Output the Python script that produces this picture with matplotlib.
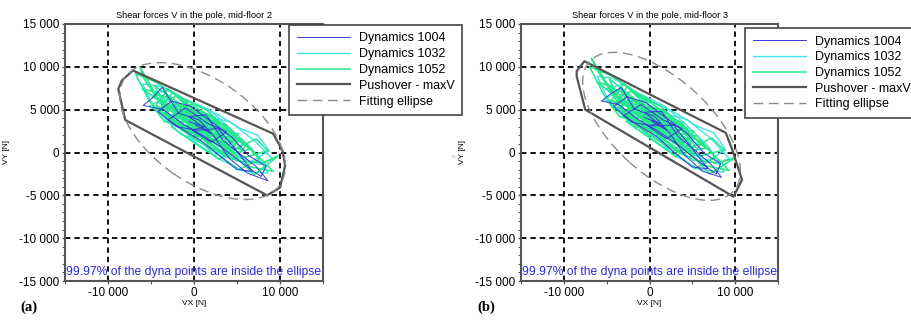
import matplotlib
matplotlib.use('Agg')
import matplotlib.pyplot as plt
from matplotlib.patches import Ellipse, Polygon
from matplotlib.ticker import FuncFormatter, MultipleLocator

plt.rcParams['font.family'] = ['Liberation Sans', 'DejaVu Sans']

# ---- data, plot (a): mid-floor 2 ----
blue_a_x = [200, 2000, -600, 1400, 3400, 5400, 7200, 8600, 6200, 4000, 2400, 600, -1800, -3700, -4800, -5900,
            -3600, -1400, 1000, 3200, 5800, 7800, 8400, 6400, 4400, 2000, -400, -2600, -4200, -2000, 400, 2800,
            4800, 6800, 5000, 3000, 800, -1200, -3000, -1000, 1600, 3800, 2000, -200, 1200, -600]
blue_a_y = [3200, 2200, 4200, 4400, 1400, -200, -1600, -3300, -2400, -600, 1800, 3800, 4600, 7600, 6400, 5500,
            5000, 3400, 2000, 600, -1400, -2800, -1600, -400, 1800, 3600, 5400, 6000, 4800, 3000, 2600, 2800,
            400, -2200, -2000, -400, 1400, 2600, 3800, 5200, 3400, 2400, 1200, 2600, 3000, 3600]

cyan_a_x = [800, -1200, 2200, 4600, 2400, -400, -2800, -5000, -3000, 0, 2800, 5400, 7400, 8800, 6400, 3600,
            1000, -1600, -4400, -6000, -4200, -1400, 1800, 4000, 6800, 8600, 5800, 2600, -200, -2800, -5200, -3400,
            -600, 2000, 4800, 7600, 9200, 7000, 4200, 1400, -1800, -3800, -1600, 1200, 3800, 5600, 3000, 200,
            -2200, -400, 1800, 600, -1000]
cyan_a_y = [2800, 4000, 3600, 1200, -400, 1600, 5200, 6600, 7400, 5600, 4400, 2800, 2000, 200, -1200, 400,
            2000, 3400, 4800, 8000, 7800, 6400, 5000, 3000, 400, -2400, -2200, -600, 2400, 4000, 5400, 6400,
            4800, 2400, -400, -1400, -800, 1400, 3600, 4200, 5600, 4400, 2200, 1000, -600, 1000, 2800, 3800,
            3400, 2600, 3200, 4600, 3000]

green_a_x = [0, 1500, -800, 2600, -1500, -3200, 500, 3500, 1200, -2200, -4600, -1800, 1000, 4200, 6500, 3000,
             -500, -3000, -5800, -6300, -4000, -1000, 2000, 5000, 8000, 9800, 7000, 4000, 1800, -1200, -3800, -2500,
             200, 2500, 5500, 7600, 5200, 2200, -200, -2800, -5200, -6800, -4400, -1600, 1400, 3800, 6800, 9200,
             6200, 3200, 600, -2000, -4800, -3400, -800, 1800, 4600, 2400, -400, -2400, -300, 2800, 5800, 8600,
             7200, 4400, 1600, -1400, -4200, -6000, -3600, -600, 2200, 4800, 3000, 200, -2600, -1000, 1200, 3600,
             1000, -1800, 400, 2600, 200, -1400, 1600, -200,
             1800, 3400, 1000, -1600, -2600, -400, 2200, 4000, 2600, 400, -2200, -3400, -1200, 800, 3000, 5000,
             3400, 1400, -800, -2800, -4600, -3000, -600, 1600, 3800, 5400, 2800, 600, -1600, -3800, -2000, 0,
             2000, 4200, 6200, 4600, 2000, -200, -2400, -4400, -3000, -800, 1200, 3200, 5200, 3600, 1000, -1000,
             -3000, -1400, 600, 2400, 4400, 2200, 200, -1800, 0, 1800, -600, 1200, -1000, 2800, 500]
green_a_y = [3000, 1200, 4800, 2600, 2600, 6800, 1400, 2400, 4600, 3200, 7800, 5800, 3800, -200, 400, 3200,
             2200, 4400, 8600, 10000, 6000, 4200, 1000, -1000, -1200, -400, -2600, 400, 3400, 5400, 5200, 7000,
             4400, 2000, 1600, -800, -2000, 200, 1800, 3600, 6000, 9200, 8200, 6400, 5000, 2800, 200, -2200,
             -1600, 600, 2600, 5000, 5400, 3600, 3000, 4400, 2400, 4000, 5600, 4400, 2400, 1200, -600, 200,
             1600, 200, 2400, 3800, 7000, 7400, 5800, 3400, 3000, 800, -800, 1000, 3000, 5000, 2800, 1600,
             4200, 4600, 3600, 3600, 2200, 4200, 3000, 3200,
             2000, 2600, 4400, 5200, 3800, 2000, 1600, 800, 3400, 4000, 5800, 4600, 3000, 2400, 1800, 1200,
             -200, 1400, 3600, 6400, 6800, 5000, 4400, 3800, 3200, 400, 800, 3000, 4000, 5800, 6600, 5000,
             4200, 1800, 1000, -800, 600, 2800, 3400, 5600, 7400, 5800, 3600, 2200, 2200, 400, 1800, 2600,
             4200, 4800, 4600, 2600, 1200, 1200, 3400, 4400, 3600, 3000, 3800, 2600, 4600, 2800, 3100]

push_a_x = [-7100, -8400, -8800, -8000, 8500, 10000, 10600, 10300, 9200]
push_a_y = [9570, 8400, 7400, 3800, -5000, -4100, -1500, 200, 2200]
ell_a = (1000, 2500, 10970, 6010, -35)   # centre x, centre y, semi-axis a, semi-axis b, angle

# ---- data, plot (b): mid-floor 3 ----
blue_b_x = [200, 2000, -600, 1400, 3400, 5400, 7200, 8400, 6200, 4000, 2400, 600, -1800, -3300, -4600, -5600,
            -3600, -1400, 1000, 3200, 5800, 7800, 8300, 6400, 4400, 2000, -400, -2600, -4200, -2000, 400, 2800,
            4800, 6800, 5000, 3000, 800, -1200, -3000, -1000, 1600, 3800, 2000, -200, 1200, -600]
blue_b_y = [3700, 2600, 4700, 4800, 1800, 200, -1400, -2900, -2200, -200, 2200, 4200, 5100, 7600, 6800, 6000,
            5600, 3900, 2500, 1000, -1100, -2500, -1300, -100, 2200, 4000, 5800, 6500, 5400, 3500, 3100, 3200,
            700, -1900, -1700, -100, 1900, 3100, 4300, 5600, 3800, 2800, 1600, 3100, 3400, 4100]

cyan_b_x = [800, -1200, 2200, 4700, 2500, -400, -2900, -5100, -3100, 0, 2900, 5500, 7500, 8900, 6500, 3700,
            1000, -1600, -4500, -6100, -4300, -1400, 1800, 4100, 6900, 8700, 5900, 2700, -200, -2900, -5300, -3500,
            -600, 2000, 4900, 7700, 9300, 7100, 4300, 1400, -1800, -3900, -1600, 1200, 3900, 5700, 3100, 200,
            -2200, -400, 1800, 600, -1000]
cyan_b_y = [3300, 4500, 4000, 1600, 0, 2100, 5800, 7400, 8000, 6000, 4700, 3100, 2300, 300, -1100, 800,
            2500, 3900, 5500, 8900, 8700, 7000, 5400, 3400, 700, -2300, -2000, -200, 2900, 4600, 6200, 7200,
            5300, 2900, -100, -1300, -700, 1700, 3900, 4600, 6200, 5100, 2800, 1500, -300, 1300, 3200, 4300,
            4000, 3100, 3600, 5000, 3600]

green_b_x = [0, 1600, -900, 2500, -1600, -3300, 400, 3600, 1100, -2300, -4700, -1900, 900, 4300, 6600, 3100,
             -600, -3100, -5900, -6800, -4100, -1100, 1900, 5100, 8100, 10000, 7000, 4100, 1700, -1300, -3900, -2600,
             100, 2400, 5600, 7700, 5300, 2300, -300, -2900, -5300, -7000, -4500, -1700, 1300, 3700, 6900, 9300,
             6300, 3300, 500, -2100, -4900, -3500, -900, 1700, 4500, 2300, -500, -2500, -400, 2700, 5900, 8700,
             7300, 4500, 1500, -1500, -4300, -6100, -3700, -700, 2100, 4900, 3100, 300, -2700, -1100, 1100, 3500,
             900, -1900, 300, 2500, 100, -1500, 1500, -300,
             1800, 3400, 1000, -1600, -2600, -400, 2200, 4000, 2600, 400, -2200, -3400, -1200, 800, 3000, 5000,
             3400, 1400, -800, -2800, -4600, -3000, -600, 1600, 3800, 5400, 2800, 600, -1600, -3800, -2000, 0,
             2000, 4200, 6200, 4600, 2000, -200, -2400, -4400, -3000, -800, 1200, 3200, 5200, 3600, 1000, -1000,
             -3000, -1400, 600, 2400, 4400, 2200, 200, -1800, 0, 1800, -600, 1200, -1000, 2800, 500]
green_b_y = [3500, 1700, 5300, 3000, 3000, 7400, 1900, 2700, 5000, 3600, 8600, 6400, 4300, 100, 500, 3500,
             2600, 4900, 9300, 11000, 6700, 4700, 1400, -900, -1200, -600, -2500, 700, 3800, 6000, 5800, 7700,
             4900, 2400, 1900, -600, -1900, 500, 2300, 4100, 6700, 10000, 9000, 7100, 5400, 3100, 300, -2100,
             -1500, 900, 3000, 5600, 6100, 4200, 3400, 4800, 2700, 4400, 6200, 5000, 2800, 1600, -400, 300,
             1700, 400, 2800, 4300, 7700, 8200, 6400, 3900, 3400, 1000, -500, 1500, 3600, 5600, 3200, 1900,
             4600, 5200, 4100, 4000, 2600, 4700, 3400, 3700,
             2500, 3000, 4900, 5800, 4300, 2500, 2000, 1100, 3800, 4500, 6400, 5200, 3500, 2900, 2200, 1400,
             0, 1800, 4100, 7000, 7500, 5600, 4900, 4300, 3500, 600, 1100, 3500, 4500, 6400, 7200, 5500,
             4600, 2100, 1200, -600, 900, 3300, 3900, 6200, 8000, 6400, 4100, 2600, 2500, 700, 2300, 3100,
             4800, 5400, 5100, 3000, 1500, 1600, 3900, 5000, 4100, 3400, 4300, 3000, 5100, 3200, 3600]

push_b_x = [-7600, -8500, -8500, -7500, 9800, 10800, 9600, 8900]
push_b_y = [10650, 9500, 8900, 5000, -5150, -3200, 500, 2300]
ell_b = (1400, 3050, 11310, 5610, -42)

titles = ['Shear forces V in the pole, mid-floor 2', 'Shear forces V in the pole, mid-floor 3']
panel_tags = ['(a)', '(b)']
note = '99.97% of the dyna points are inside the ellipse'

c_blue = '#3b3bd6'
c_cyan = '#45e3e3'
c_green = '#27e88e'
c_dark = '#555555'


def fmt(v, pos):
    s = f'{int(round(v)):,}'.replace(',', ' ')
    return s


fig = plt.figure(figsize=(9.11, 3.2), dpi=100)
ax_a = fig.add_axes([65 / 911, 1 - 281 / 320, 258 / 911, 257 / 320])
ax_b = fig.add_axes([521 / 911, 1 - 281 / 320, 257 / 911, 257 / 320])

panels = [
    (ax_a, blue_a_x, blue_a_y, cyan_a_x, cyan_a_y, green_a_x, green_a_y, push_a_x, push_a_y, ell_a, 289, 25, 20),
    (ax_b, blue_b_x, blue_b_y, cyan_b_x, cyan_b_y, green_b_x, green_b_y, push_b_x, push_b_y, ell_b, 745, 28, 477),
]

for i, (ax, bx, by, cx, cy, gx, gy, px, py, ell, leg_x, leg_y, tag_x) in enumerate(panels):
    l2, = ax.plot(cx, cy, color=c_cyan, lw=1.0, label='Dynamics 1032', zorder=3)
    l3, = ax.plot(gx, gy, color=c_green, lw=1.15, label='Dynamics 1052', zorder=3.1)
    l1, = ax.plot(bx, by, color=c_blue, lw=0.7, label='Dynamics 1004', zorder=3.2)
    poly = Polygon(list(zip(px, py)), closed=True, fill=False, edgecolor=c_dark, lw=1.6, zorder=4)
    ax.add_patch(poly)
    e = Ellipse((ell[0], ell[1]), 2 * ell[2], 2 * ell[3], angle=ell[4], fill=False,
                edgecolor='#8c8c8c', lw=1.0, ls=(0, (7, 4)), zorder=4)
    ax.add_patch(e)
    l4, = ax.plot([], [], color=c_dark, lw=1.6, label='Pushover - maxV')
    l5, = ax.plot([], [], color='#8c8c8c', lw=1.0, ls=(0, (7, 4)), label='Fitting ellipse')

    ax.set_xlim(-15000, 15000)
    ax.set_ylim(-15000, 15000)
    ax.set_xticks([-10000, 0, 10000])
    ax.set_yticks(range(-15000, 15001, 5000))
    ax.xaxis.set_minor_locator(MultipleLocator(5000))
    ax.yaxis.set_minor_locator(MultipleLocator(1000))
    ax.xaxis.set_major_formatter(FuncFormatter(fmt))
    ax.yaxis.set_major_formatter(FuncFormatter(fmt))
    ax.tick_params(which='major', length=2, width=1, color=c_dark, labelsize=8.5, pad=2)
    ax.tick_params(which='minor', length=2, width=0.8, color=c_dark)
    ax.grid(True, which='major', color='black', lw=1.3, ls=(0, (3, 2.2)), zorder=1)
    for s in ax.spines.values():
        s.set_color(c_dark)
        s.set_linewidth(1.5)

    ax.set_title(titles[i], fontsize=6.7, pad=4)
    ax.set_xlabel('VX [N]', fontsize=6, labelpad=1)
    ax.set_ylabel('VY [N]', fontsize=6)
    ax.yaxis.set_label_coords(-0.215, 0.5)
    ax.text(0.004, 0.035, note, transform=ax.transAxes, color='#2a2ae6', fontsize=8.75,
            va='center', ha='left', zorder=5)

    leg = fig.legend(handles=[l1, l2, l3, l4, l5], loc='upper left',
                     bbox_to_anchor=(leg_x / 911, 1 - leg_y / 320), bbox_transform=fig.transFigure,
                     fontsize=9, frameon=True, fancybox=False, framealpha=1,
                     handlelength=4.3, handletextpad=0.7, labelspacing=0.3, borderpad=0.6,
                     borderaxespad=0)
    leg.get_frame().set_edgecolor('#444444')
    leg.get_frame().set_linewidth(1.2)

    fig.text(tag_x / 911, 1 - 307 / 320, panel_tags[i], fontsize=10.5, fontweight='bold',
             family='Liberation Serif', va='center', ha='left')

fig.text(452 / 911, 1 - 157 / 320, 'o', fontsize=4, color='#aaaaaa', va='center')

fig.savefig('out.png', dpi=100)
